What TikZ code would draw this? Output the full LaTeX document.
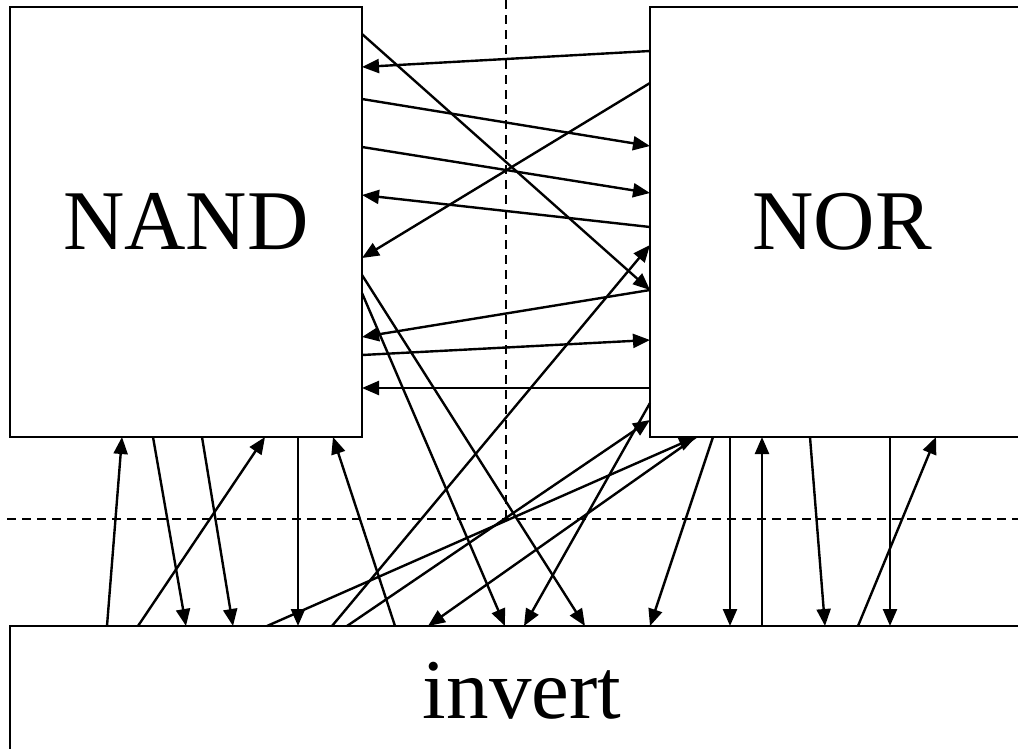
\documentclass[tikz,border=0pt]{standalone}
\usepackage{fontspec}
\setmainfont{Liberation Serif}
\usetikzlibrary{arrows.meta}
\newcommand{\grand}{\fontsize{85}{100}\selectfont}

\begin{document}
\begin{tikzpicture}[x=1pt, y=-1pt,
    bloc/.style={draw, line width=2.4pt, inner sep=0pt, outer sep=0pt, font=\grand},
    fil/.style={-{Triangle[length=17pt, width=14pt]}, line width=2.4pt},
    coupe/.style={line width=1.8pt, dash pattern=on 9pt off 6pt}]
  \useasboundingbox (0,0) rectangle (1018,748);
  \clip (0,0) rectangle (1018,748);

  % --- coupes ---
  \draw[coupe] (506,0) -- (506,519);
  \draw[coupe] (7,519) -- (1018,519);

  % --- blocs ---
  \node[bloc, minimum width=352pt, minimum height=430pt] (nand) at (186,222) {NAND};
  \node[bloc, minimum width=384pt, minimum height=430pt] (nor) at (842,222) {NOR};
  \node[bloc, minimum width=1024pt, minimum height=130pt] (inv) at (522,691) {invert};

  % --- liaisons NAND / NOR ---
  \draw[fil] (nand.east |- 0,34)  -- (nor.west |- 0,290);
  \draw[fil] (nor.west |- 0,51)   -- (nand.east |- 0,67);
  \draw[fil] (nor.west |- 0,83)   -- (nand.east |- 0,258);
  \draw[fil] (nand.east |- 0,99)  -- (nor.west |- 0,146);
  \draw[fil] (nand.east |- 0,147) -- (nor.west |- 0,193);
  \draw[fil] (nor.west |- 0,227)  -- (nand.east |- 0,195);
  \draw[fil] (nor.west |- 0,290)  -- (nand.east |- 0,337);
  \draw[fil] (nand.east |- 0,355) -- (nor.west |- 0,340);
  \draw[fil] (nor.west |- 0,388)  -- (nand.east |- 0,388);

  % --- liaisons vers invert ---
  \draw[fil] (nand.east |- 0,275) -- (inv.north -| 585,0);
  \draw[fil] (nand.east |- 0,293) -- (inv.north -| 505,0);
  \draw[fil] (nor.west |- 0,403)  -- (inv.north -| 524,0);
  \draw[fil] (inv.north -| 332,0) -- (nor.west |- 0,245);
  \draw[fil] (inv.north -| 347,0) -- (nor.west |- 0,420);
  \draw[fil] (inv.north -| 267,0) -- (nor.south -| 696,0);
  \draw[fil] (nor.south -| 696,0) -- (inv.north -| 428,0);
  \draw[fil] (nor.south -| 713,0) -- (inv.north -| 650,0);
  \draw[fil] (nor.south -| 730,0) -- (inv.north -| 730,0);
  \draw[fil] (inv.north -| 762,0) -- (nor.south -| 762,0);
  \draw[fil] (nor.south -| 810,0) -- (inv.north -| 825,0);
  \draw[fil] (nor.south -| 890,0) -- (inv.north -| 890,0);
  \draw[fil] (inv.north -| 858,0) -- (nor.south -| 936,0);

  % --- dessous NAND ---
  \draw[fil] (inv.north -| 107,0)  -- (nand.south -| 122,0);
  \draw[fil] (nand.south -| 153,0) -- (inv.north -| 186,0);
  \draw[fil] (nand.south -| 202,0) -- (inv.north -| 233,0);
  \draw[fil] (inv.north -| 138,0)  -- (nand.south -| 265,0);
  \draw[fil] (nand.south -| 298,0) -- (inv.north -| 298,0);
  \draw[fil] (inv.north -| 395,0)  -- (nand.south -| 333,0);
\end{tikzpicture}
\end{document}
